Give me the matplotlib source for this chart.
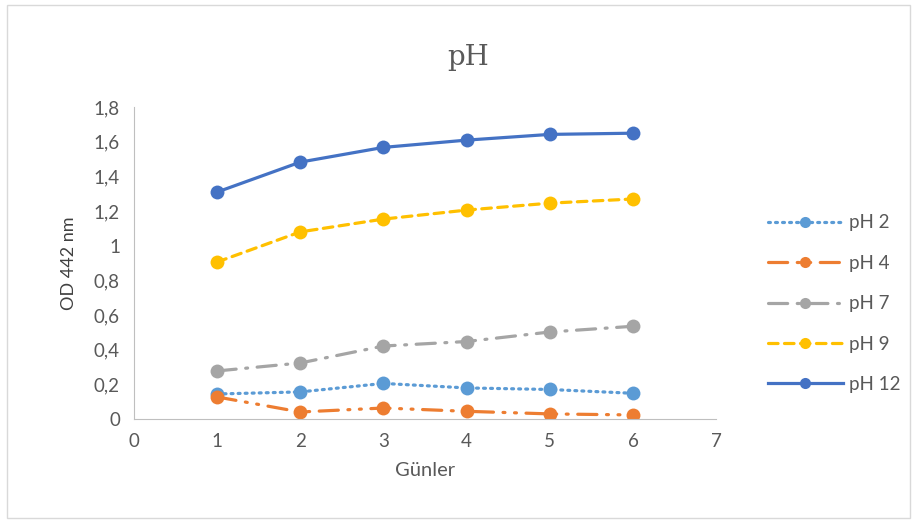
import matplotlib.pyplot as plt

days = [1, 2, 3, 4, 5, 6]
ph2 = [0.144, 0.156, 0.205, 0.179, 0.170, 0.148]
ph4 = [0.127, 0.040, 0.063, 0.044, 0.029, 0.023]
ph7 = [0.277, 0.323, 0.421, 0.447, 0.502, 0.535]
ph9 = [0.906, 1.080, 1.154, 1.206, 1.246, 1.270]
ph12 = [1.31, 1.483, 1.568, 1.610, 1.643, 1.650]

labels = ["pH 2", "pH 4", "pH 7", "pH 9", "pH 12"]
colors = ["#5B9BD5", "#ED7D31", "#A5A5A5", "#FFC000", "#4472C4"]
# Excel-ish dash styles: dot, long dash-dot-dot, long dash-dot, dash, solid
styles = [(0, (0.6, 1.6)), (0, (6, 3, 0.6, 3, 0.6, 3)), (0, (6, 3, 0.6, 3)), (0, (3, 2)), "-"]

plt.rcParams["font.family"] = ["Lato", "DejaVu Sans"]

fig = plt.figure(figsize=(9.17, 5.23), dpi=100)
ax = fig.add_axes([0.146, 0.199, 0.635, 0.596])

for y, lab, c, ls in zip([ph2, ph4, ph7, ph9, ph12], labels, colors, styles):
    ax.plot(days, y, color=c, linestyle=ls, linewidth=2.3, marker="o",
            markersize=10, markeredgewidth=0, label=lab, dash_capstyle="round")

ax.set_xlim(0, 7)
ax.set_ylim(0, 1.8)
ax.set_xticks(range(0, 8))
ax.set_yticks([0, 0.2, 0.4, 0.6, 0.8, 1.0, 1.2, 1.4, 1.6, 1.8])
ax.set_yticklabels(["0", "0,2", "0,4", "0,6", "0,8", "1", "1,2", "1,4", "1,6", "1,8"])
ax.tick_params(length=0, labelsize=13.5, colors="#595959", pad=10)
for s in ["top", "right"]:
    ax.spines[s].set_visible(False)
for s in ["left", "bottom"]:
    ax.spines[s].set_color("#BFBFBF")

ax.set_xlabel("Günler", fontsize=14.5, color="#595959", labelpad=9)
ax.set_ylabel("OD 442 nm", fontsize=13, color="#404040", labelpad=12)
fig.text(0.51, 0.89, "pH", fontsize=20, color="#595959", family="DejaVu Serif",
         ha="center", va="center")

leg = ax.legend(loc="center left", bbox_to_anchor=(1.06, 0.37), frameon=False,
                fontsize=13.5, handlelength=4.0, labelspacing=1.25, handletextpad=0.3,
                markerscale=0.8)
for t in leg.get_texts():
    t.set_color("#595959")

# outer chart border
fig.patches.append(plt.Rectangle((0.008, 0.01), 0.984, 0.98, transform=fig.transFigure,
                                 fill=False, edgecolor="#D9D9D9", linewidth=1))

fig.savefig("out.png", dpi=100)
